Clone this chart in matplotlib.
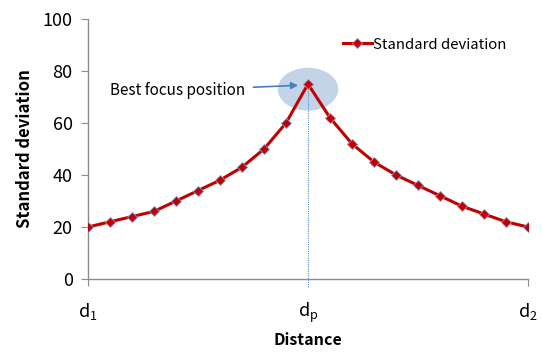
import matplotlib
matplotlib.use("Agg")
import matplotlib.pyplot as plt
from matplotlib.patches import Ellipse

plt.rcParams['font.family'] = ['Noto Sans CJK KR', 'DejaVu Sans']
plt.rcParams['mathtext.default'] = 'regular'
plt.rcParams['mathtext.fontset'] = 'custom'
plt.rcParams['mathtext.rm'] = 'Noto Sans CJK KR'

# standard deviation measured at each distance step (peak in the middle)
positions = list(range(21))
std_values = [20, 22, 24, 26, 30, 34, 38, 43, 50, 60, 75,
              62, 52, 45, 40, 36, 32, 28, 25, 22, 20]
tick_pos = [0, 10, 20]
tick_labels = ['d$_1$', 'd$_p$', 'd$_2$']
peak_idx = 10

fig = plt.figure(figsize=(5.42, 3.52), dpi=100)
ax = fig.add_axes([88 / 542, 73 / 352, 440 / 542, 260 / 352])

gray = '#8c8c8c'
line_red = '#c00000'

# highlight around the peak
ax.add_patch(Ellipse((positions[peak_idx], std_values[peak_idx] - 2), 2.75, 16.5,
                     facecolor='#b9cce4', edgecolor='none', alpha=0.85, zorder=1))

ax.plot([positions[peak_idx]] * 2, [-3, std_values[peak_idx]], ls=(0, (1, 1)),
        lw=0.8, color='#5b8fd0', clip_on=False, zorder=2)

ax.plot(positions, std_values, color=line_red, lw=2.2, marker='D', ms=4.8,
        mfc=line_red, mec='#8a97c8', mew=0.6, label='Standard deviation', zorder=3)

ax.annotate('Best focus position', xy=(positions[peak_idx] - 0.45, 74.5),
            xytext=(1.0, 72.5), fontsize=11, va='center',
            arrowprops=dict(arrowstyle='-|>', color='#4a7ebb', lw=1.2,
                            shrinkA=4, shrinkB=0, mutation_scale=10))

ax.set_xlim(0, 20)
ax.set_ylim(0, 100)
ax.set_yticks(range(0, 101, 20))
ax.set_xticks(tick_pos)
ax.set_xticklabels(tick_labels, fontsize=13)
ax.tick_params(axis='y', labelsize=13, length=5, color=gray, pad=6)
ax.tick_params(axis='x', length=5, color=gray, pad=11)
ax.xaxis.get_major_ticks()[1].tick1line.set_visible(False)

for side in ['top', 'right']:
    ax.spines[side].set_visible(False)
for side in ['left', 'bottom']:
    ax.spines[side].set_color(gray)
    ax.spines[side].set_linewidth(1.0)

ax.set_ylabel('Standard deviation', fontsize=12, fontweight='bold', labelpad=6)
ax.set_xlabel('Distance', fontsize=11.5, fontweight='bold', labelpad=5)

ax.legend(loc='upper left', bbox_to_anchor=(0.55, 0.98), frameon=False,
          fontsize=10.7, handlelength=1.9, handletextpad=0.1)

fig.savefig('out.png', dpi=100)
